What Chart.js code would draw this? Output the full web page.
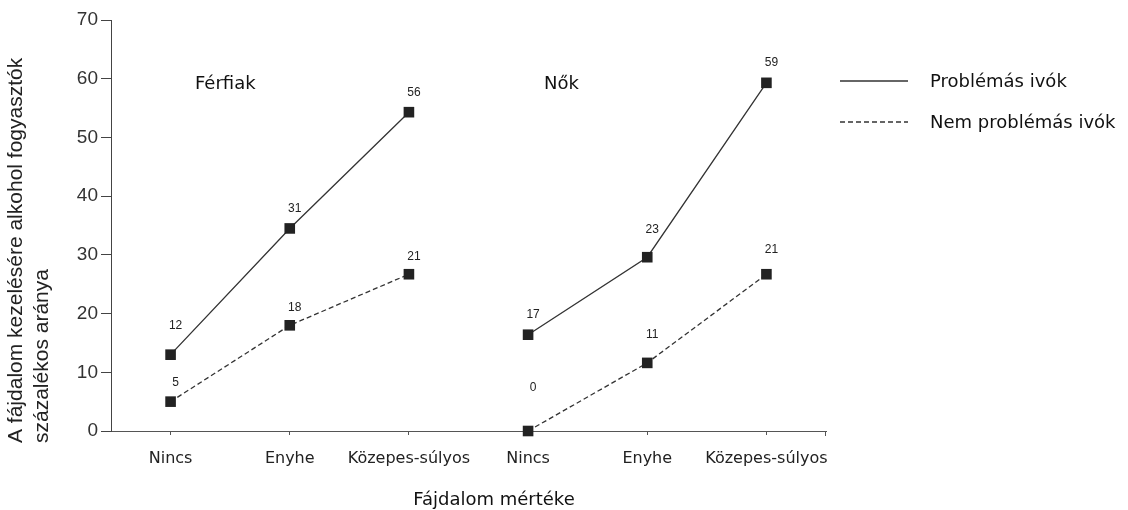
<!DOCTYPE html>
<html>
<head>
<meta charset="utf-8">
<script src="https://cdn.jsdelivr.net/npm/chart.js@4"></script>
<style>
  body { margin: 0; background: #fff; }
  #wrap { width: 1128px; height: 510px; position: relative; }
</style>
</head>
<body>
<div id="wrap"><canvas id="chart"></canvas></div>
<script>
// categories on the x axis (two groups: men, women)
const categories = ["Nincs", "Enyhe", "Közepes-súlyos", "Nincs", "Enyhe", "Közepes-súlyos"];
const yTicks = [0, 10, 20, 30, 40, 50, 60, 70];

// marker heights as drawn in the figure
const menProblem = [13, 34.5, 54.3, null, null, null];
const menNonProblem = [5, 18, 26.7, null, null, null];
const womenProblem = [null, null, null, 16.4, 29.6, 59.3];
const womenNonProblem = [null, null, null, 0, 11.6, 26.7];

// numbers printed next to the markers
const menProblemLabels = [12, 31, 56];
const menNonProblemLabels = [5, 18, 21];
const womenProblemLabels = [17, 23, 59];
const womenNonProblemLabels = [0, 11, 21];

const seriesNames = ["Problémás ivók", "Nem problémás ivók"];
const groupNames = ["Férfiak", "Nők"];
const yTitle = ["A fájdalom kezelésére alkohol fogyasztók", "százalékos aránya"];
const xTitle = "Fájdalom mértéke";

const lineColor = "#333";
const markColor = "#222";
const dash = [5, 3];

const pointStyle = {
  pointStyle: "rect",
  pointRadius: 7.5,
  pointHoverRadius: 7.5,
  pointBackgroundColor: markColor,
  pointBorderColor: markColor,
  pointBorderWidth: 0,
  borderColor: lineColor,
  borderWidth: 1.3,
  fill: false,
  spanGaps: false,
  clip: false,
};

// value labels, legend and titles drawn on top of the chart
const annotations = {
  id: "annotations",
  afterDatasetsDraw(chart, args, opts) {
    const ctx = chart.ctx;
    const area = chart.chartArea;
    ctx.save();

    // small tick closing the x axis
    ctx.beginPath();
    ctx.strokeStyle = "#555";
    ctx.lineWidth = 1;
    ctx.moveTo(area.right - 0.5, area.bottom);
    ctx.lineTo(area.right - 0.5, area.bottom + 5);
    ctx.stroke();

    // value labels above the markers
    ctx.font = "12px 'Liberation Sans', Arial, sans-serif";
    ctx.fillStyle = "#222";
    ctx.textAlign = "center";
    ctx.textBaseline = "middle";
    chart.data.datasets.forEach((ds, di) => {
      const meta = chart.getDatasetMeta(di);
      const pts = meta.data.filter((p, i) => ds.data[i] !== null);
      ds.valueLabels.forEach((v, i) => {
        const p = pts[i];
        ctx.fillText(String(v), p.x + 5, p.y - opts.lift[di][i]);
      });
    });

    // group names
    ctx.font = "18px 'DejaVu Sans', Verdana, sans-serif";
    ctx.fillStyle = "#111";
    ctx.textAlign = "left";
    ctx.fillText(groupNames[0], 195, 84);
    ctx.fillText(groupNames[1], 544, 84);

    // legend
    const legendY = [81, 122];
    seriesNames.forEach((name, i) => {
      ctx.beginPath();
      ctx.strokeStyle = lineColor;
      ctx.lineWidth = 1.3;
      ctx.setLineDash(i === 0 ? [] : dash);
      ctx.moveTo(840, legendY[i]);
      ctx.lineTo(908, legendY[i]);
      ctx.stroke();
      ctx.setLineDash([]);
      ctx.fillStyle = "#111";
      ctx.fillText(name, 930, legendY[i] + 1);
    });

    // x axis title
    ctx.textAlign = "center";
    ctx.fillText(xTitle, 494, 500);

    // y axis title, rotated, lines starting at the bottom
    ctx.translate(0, 443);
    ctx.rotate(-Math.PI / 2);
    ctx.font = "21px 'Liberation Sans', Arial, sans-serif";
    ctx.fillStyle = "#222";
    ctx.textAlign = "left";
    ctx.fillText(yTitle[0], 0, 16);
    ctx.fillText(yTitle[1], 0, 42);

    ctx.restore();
  },
};

new Chart(document.getElementById("chart"), {
  type: "line",
  data: {
    labels: categories,
    datasets: [
      { ...pointStyle, label: seriesNames[0], data: menProblem, valueLabels: menProblemLabels },
      { ...pointStyle, label: seriesNames[1], data: menNonProblem, valueLabels: menNonProblemLabels, borderDash: dash },
      { ...pointStyle, label: seriesNames[0], data: womenProblem, valueLabels: womenProblemLabels },
      { ...pointStyle, label: seriesNames[1], data: womenNonProblem, valueLabels: womenNonProblemLabels, borderDash: dash },
    ],
  },
  options: {
    responsive: true,
    maintainAspectRatio: false,
    animation: false,
    layout: { padding: { top: 20, right: 302, left: 0, bottom: 0 } },
    plugins: {
      legend: { display: false },
      tooltip: { enabled: false },
      annotations: {
        lift: [[29, 20, 19], [19, 18, 18], [20, 28, 20], [43, 28, 25]],
      },
    },
    scales: {
      x: {
        type: "category",
        offset: true,
        afterFit: (scale) => { scale.height = 79; },
        grid: { drawOnChartArea: false, offset: false, tickLength: 4, color: "#555" },
        border: { display: true, color: "#555", width: 1 },
        ticks: {
          color: "#222",
          padding: 14,
          maxRotation: 0,
          autoSkip: false,
          font: { family: "'DejaVu Sans', Verdana, sans-serif", size: 16 },
        },
      },
      y: {
        min: 0,
        max: 70,
        afterFit: (scale) => { scale.width = 111; },
        afterBuildTicks: (scale) => { scale.ticks = yTicks.map((v) => ({ value: v })); },
        grid: { drawOnChartArea: false, tickLength: 10, color: "#444" },
        border: { display: true, color: "#444", width: 1 },
        ticks: {
          color: "#333",
          padding: 3,
          font: { family: "'Liberation Sans', Arial, sans-serif", size: 19 },
        },
      },
    },
  },
  plugins: [annotations],
});
</script>
</body>
</html>
